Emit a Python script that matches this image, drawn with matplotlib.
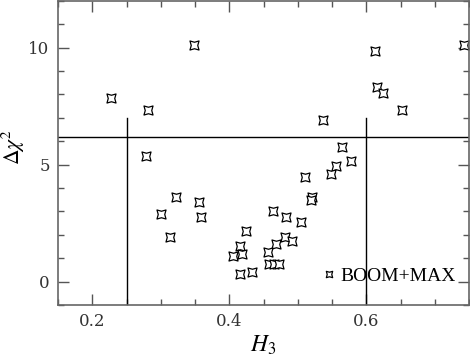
import matplotlib
matplotlib.use("Agg")
import matplotlib.pyplot as plt
import numpy as np
from matplotlib.path import Path
from matplotlib.ticker import MultipleLocator

plt.rcParams['mathtext.fontset'] = 'stix'

h3 = [0.228, 0.281, 0.278, 0.348, 0.612, 0.742, 0.615, 0.624, 0.652, 0.537,
      0.565, 0.577, 0.556, 0.549, 0.510, 0.322, 0.356, 0.520, 0.519, 0.301,
      0.358, 0.464, 0.483, 0.505, 0.425, 0.313, 0.481, 0.491, 0.468, 0.415,
      0.456, 0.406, 0.418, 0.458, 0.465, 0.472, 0.416, 0.433]
dchi2 = [7.84, 7.31, 5.37, 10.09, 9.87, 10.11, 8.30, 8.06, 7.33, 6.89,
         5.76, 5.16, 4.94, 4.58, 4.48, 3.62, 3.42, 3.62, 3.49, 2.89,
         2.78, 3.02, 2.78, 2.54, 2.17, 1.90, 1.91, 1.74, 1.60, 1.53,
         1.26, 1.10, 1.16, 0.75, 0.75, 0.75, 0.32, 0.43]
label = "BOOM+MAX"
h_level = 6.18
v_lines = [0.25, 0.6]
v_top = 7.0

# four pointed star marker (points on the diagonals)
d = 0.72
star = Path([(1, 1), (0, d), (-1, 1), (-d, 0), (-1, -1), (0, -d), (1, -1), (d, 0), (1, 1)],
            [Path.MOVETO] + [Path.LINETO] * 7 + [Path.CLOSEPOLY])

fig = plt.figure(figsize=(4.7, 3.58), dpi=100)
ax = fig.add_axes([0.1234, 0.148, 0.875, 0.85])

ax.plot(h3, dchi2, linestyle='none', marker=star, markersize=6.5,
        markerfacecolor='white', markeredgecolor='black', markeredgewidth=0.9,
        label=label)
ax.axhline(h_level, color='black', lw=1.0)
for xv in v_lines:
    ax.plot([xv, xv], [-1, v_top], color='black', lw=1.0)

ax.set_xlim(0.15, 0.75)
ax.set_ylim(-1, 12)
ax.xaxis.set_major_locator(MultipleLocator(0.2))
ax.xaxis.set_minor_locator(MultipleLocator(0.05))
ax.yaxis.set_major_locator(MultipleLocator(5))
ax.yaxis.set_minor_locator(MultipleLocator(1))
ax.tick_params(which='both', direction='in', top=True, right=True, color='#555555')
ax.tick_params(which='major', length=8, width=1.0, labelsize=12, labelcolor='#333333', pad=6)
ax.tick_params(which='minor', length=4.3, width=1.0)
for lbl in ax.get_xticklabels() + ax.get_yticklabels():
    lbl.set_fontfamily('DejaVu Serif')
for s in ax.spines.values():
    s.set_color('#666666')
    s.set_linewidth(1.2)

ax.set_xlabel(r'$H_3$', fontsize=17, labelpad=2)
ax.set_ylabel(r'$\Delta\chi^2$', fontsize=15.5)
ax.yaxis.set_label_coords(-0.075, 0.518)

leg = ax.legend(loc='center left', bbox_to_anchor=(0.645, 0.095), frameon=False,
                markerscale=0.7, handlelength=0.6, handletextpad=0.3,
                prop={'family': 'Liberation Serif', 'size': 14},
                borderaxespad=0, borderpad=0)

fig.savefig('out.png', dpi=100)
